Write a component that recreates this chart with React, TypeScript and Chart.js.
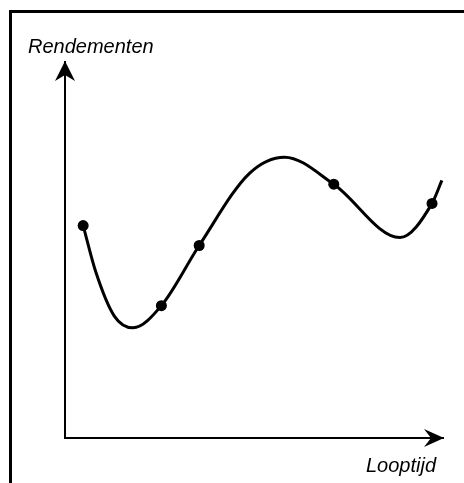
import React, { useEffect, useRef } from "react";
import { Chart, registerables } from "chart.js";

Chart.register(...registerables);

// Observed curve: x = maturity (looptijd), y = yield (rendement), arbitrary units 0..10
const curveX = [0.48, 0.82, 1.3, 1.8, 2.55, 3.55, 4.88, 5.81, 7.11, 8.86, 9.71, 9.97];
const curveY = [5.65, 4.4, 3.25, 2.93, 3.52, 5.12, 7.04, 7.47, 6.75, 5.33, 6.24, 6.85];
// which of the curve points are shown as dots
const markedPoint = [true, false, false, false, true, true, false, false, true, false, true, false];

const yAxisLabel = "Rendementen";
const xAxisLabel = "Looptijd";

const FONT = '"Liberation Sans", Arial, Helvetica, sans-serif';

const decorPlugin = {
  id: "decor",
  afterDraw(chart: any) {
    const { ctx, chartArea } = chart;
    const { left, right, top, bottom } = chartArea;
    ctx.save();
    ctx.fillStyle = "#000";
    // y arrow head
    ctx.beginPath();
    ctx.moveTo(left, top - 1);
    ctx.lineTo(left - 10, top + 19);
    ctx.lineTo(left, top + 13);
    ctx.lineTo(left + 10, top + 19);
    ctx.closePath();
    ctx.fill();
    // x arrow head
    ctx.beginPath();
    ctx.moveTo(right + 1, bottom);
    ctx.lineTo(right - 19, bottom - 9);
    ctx.lineTo(right - 12, bottom);
    ctx.lineTo(right - 19, bottom + 9);
    ctx.closePath();
    ctx.fill();
    // labels
    ctx.font = `italic 20px ${FONT}`;
    ctx.textBaseline = "alphabetic";
    ctx.textAlign = "left";
    ctx.fillText(yAxisLabel, left - 37, top - 9);
    ctx.textAlign = "right";
    ctx.fillText(xAxisLabel, right - 7, bottom + 34);
    ctx.restore();
  },
};

export default function App() {
  const canvasRef = useRef<HTMLCanvasElement | null>(null);

  useEffect(() => {
    if (!canvasRef.current) return;
    const data = curveX.map((x, i) => ({ x, y: curveY[i] }));
    const chart = new Chart(canvasRef.current, {
      type: "line",
      data: {
        datasets: [
          {
            data,
            borderColor: "#000",
            borderWidth: 3,
            backgroundColor: "#000",
            pointBackgroundColor: "#000",
            pointBorderColor: "#000",
            pointRadius: markedPoint.map((m) => (m ? 5.5 : 0)),
            pointBorderWidth: 0,
            cubicInterpolationMode: "monotone",
            fill: false,
            clip: false as any,
          },
        ],
      },
      options: {
        responsive: false,
        animation: false,
        events: [],
        layout: { padding: { left: 65, top: 62, right: 21, bottom: 45 } },
        plugins: {
          legend: { display: false },
          tooltip: { enabled: false },
          title: { display: false },
        },
        scales: {
          x: {
            type: "linear",
            min: 0,
            max: 10,
            grid: { display: false },
            ticks: { display: false },
            border: { display: true, color: "#000", width: 2 },
            afterFit: (s: any) => {
              s.height = 0;
            },
          },
          y: {
            type: "linear",
            min: 0,
            max: 10,
            grid: { display: false },
            ticks: { display: false },
            border: { display: true, color: "#000", width: 2 },
            afterFit: (s: any) => {
              s.width = 0;
            },
          },
        },
      },
      plugins: [decorPlugin],
    });
    return () => chart.destroy();
  }, []);

  return (
    <div
      style={{
        position: "fixed",
        left: 0,
        top: 0,
        width: 464,
        height: 483,
        background: "#fff",
      }}
    >
      <div
        style={{
          position: "absolute",
          left: 9,
          top: 10,
          right: 0,
          bottom: 0,
          borderTop: "3px solid #000",
          borderLeft: "3px solid #000",
        }}
      />
      <canvas
        ref={canvasRef}
        width={464}
        height={483}
        style={{ position: "absolute", left: 0, top: 0, width: 464, height: 483 }}
      />
    </div>
  );
}
